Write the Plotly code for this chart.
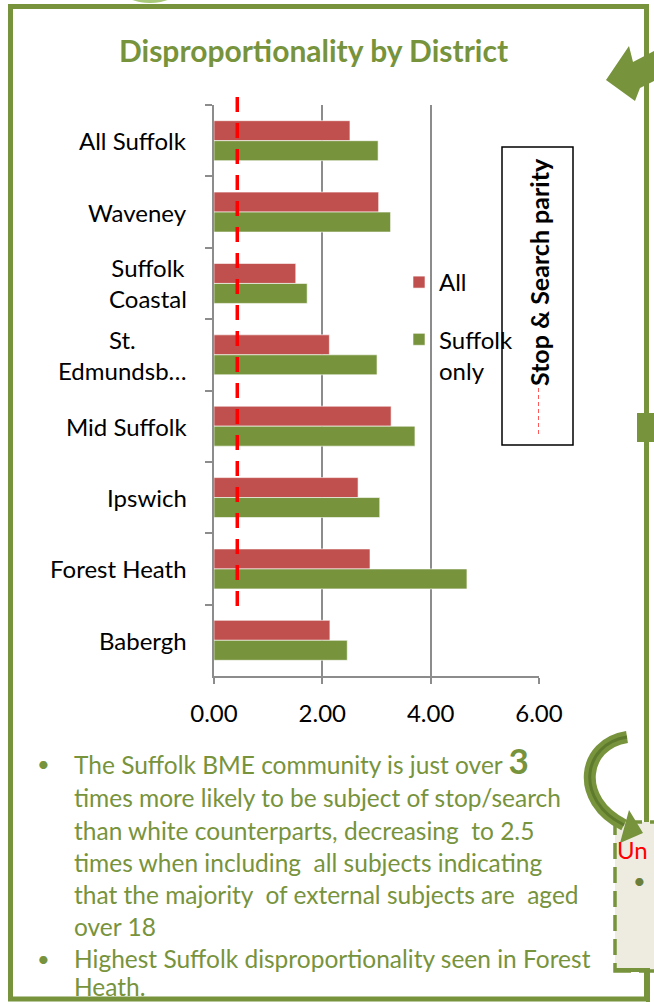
import plotly.graph_objects as go

# ---------------- data ----------------
categories = ["All Suffolk", "Waveney", "Suffolk Coastal", "St. Edmundsbury",
              "Mid Suffolk", "Ipswich", "Forest Heath", "Babergh"]
category_labels = ["All Suffolk", "Waveney", "Suffolk<br>Coastal", "St.<br>Edmundsb…",
                   "Mid Suffolk", "Ipswich", "Forest Heath", "Babergh"]
all_values = [2.51, 3.04, 1.51, 2.13, 3.27, 2.66, 2.88, 2.14]
suffolk_only_values = [3.03, 3.26, 1.72, 3.01, 3.71, 3.06, 4.67, 2.46]
series_names = ["All", "Suffolk<br>only"]
parity_value = 0.43
parity_label = "Stop & Search parity"
x_tick_values = [0, 2, 4, 6]
x_tick_labels = ["0.00", "2.00", "4.00", "6.00"]
title_text = "Disproportionality by District"
bullet_lines = [
    ("•", 'The Suffolk BME community is just over <span style="font-size:35px;font-weight:bold">3</span>'),
    ("", "times more likely to be subject of stop/search"),
    ("", "than white counterparts, decreasing  to 2.5"),
    ("", "times when including  all subjects indicating"),
    ("", "that the majority  of external subjects are  aged"),
    ("", "over 18"),
    ("•", "Highest Suffolk disproportionality seen in Forest"),
    ("", "Heath."),
]
side_box_title = "Un"

# ---------------- styling / layout ----------------
W, H = 654, 1002
L, R, T, B = 214, 539, 105, 676
GREEN = "#77933C"
RED = "#C0504D"
GRID = "#8C8C8C"
FONT = "Lato"


def px(x, y):
    return (x - L) / (R - L), (B - y) / (B - T)


def path_from(points, close=True):
    s = ""
    for i, (x, y) in enumerate(points):
        a, b = px(x, y)
        s += ("M" if i == 0 else "L") + f"{a:.5f},{b:.5f} "
    return s + ("Z" if close else "")


fig = go.Figure()
fig.add_trace(go.Bar(y=categories, x=all_values, name=series_names[0], orientation="h",
                     marker=dict(color=RED, line=dict(color="rgba(255,255,255,0.6)", width=1)),
                     legendgroup="a", hoverinfo="skip"))
fig.add_trace(go.Bar(y=categories, x=suffolk_only_values, name=series_names[1], orientation="h",
                     marker=dict(color=GREEN, line=dict(color="rgba(255,255,255,0.6)", width=1)),
                     legendgroup="b", hoverinfo="skip"))

shapes = []
# outer slide frame
x0, y0 = px(10.5, 999)
x1, y1 = px(646.5, 6.5)
shapes.append(dict(type="rect", xref="paper", yref="paper", x0=x0, y0=y0, x1=x1, y1=y1,
                   line=dict(color=GREEN, width=5), layer="below"))
# top ellipse (partially visible)
x0, y0 = px(122, 3)
x1, y1 = px(178, -24)
shapes.append(dict(type="circle", xref="paper", yref="paper", x0=x0, y0=y0, x1=x1, y1=y1,
                   fillcolor="#A8C97A", line=dict(width=0), layer="above"))
# top-right arrow
shapes.append(dict(type="path", xref="paper", yref="paper",
                   path=path_from([(606, 80), (629, 46), (633, 62), (656, 50), (656, 80),
                                   (640, 88), (635, 101)]),
                   fillcolor=GREEN, line=dict(width=0), layer="above"))
# right green square
x0, y0 = px(637, 442)
x1, y1 = px(656, 413)
shapes.append(dict(type="rect", xref="paper", yref="paper", x0=x0, y0=y0, x1=x1, y1=y1,
                   fillcolor=GREEN, line=dict(width=0), layer="above"))
# beige side box
x0, y0 = px(615, 971)
x1, y1 = px(662, 822)
shapes.append(dict(type="rect", xref="paper", yref="paper", x0=x0, y0=y0, x1=x1, y1=y1,
                   fillcolor="#EEECE1", line=dict(color=GREEN, width=3.5, dash="16px,8px"),
                   layer="above"))
shapes.append(dict(type="path", xref="paper", yref="paper",
                   path=path_from([(615, 970), (648, 970), (648, 1002)], close=False),
                   line=dict(color=GREEN, width=4), layer="above"))
# curved arrow
a0 = px(627, 737); c1 = px(582, 744); c2 = px(574, 800); a3 = px(624, 825)
shapes.append(dict(type="path", xref="paper", yref="paper",
                   path=f"M{a0[0]:.5f},{a0[1]:.5f} C{c1[0]:.5f},{c1[1]:.5f} {c2[0]:.5f},{c2[1]:.5f} {a3[0]:.5f},{a3[1]:.5f}",
                   line=dict(color=GREEN, width=12), layer="above"))
shapes.append(dict(type="path", xref="paper", yref="paper",
                   path=f"M{a0[0]:.5f},{a0[1]:.5f} C{c1[0]:.5f},{c1[1]:.5f} {c2[0]:.5f},{c2[1]:.5f} {a3[0]:.5f},{a3[1]:.5f}",
                   line=dict(color="#5E7A2C", width=3), layer="above"))
shapes.append(dict(type="path", xref="paper", yref="paper",
                   path=path_from([(643, 833), (629, 810), (620, 843)]),
                   fillcolor=GREEN, line=dict(width=0), layer="above"))
# parity line
ya = px(0, 97)[1]
yb = px(0, 615)[1]
shapes.append(dict(type="line", xref="x", yref="paper", x0=parity_value, x1=parity_value,
                   y0=ya, y1=yb, line=dict(color="#FF0000", width=3.5, dash="15px,11px"),
                   layer="above"))
# stop & search parity box
x0, y0 = px(502, 445)
x1, y1 = px(573, 147)
shapes.append(dict(type="rect", xref="paper", yref="paper", x0=x0, y0=y0, x1=x1, y1=y1,
                   line=dict(color="#000000", width=1.5), layer="above"))
shapes.append(dict(type="line", xref="x", yref="paper", x0=x_tick_values[-1], x1=x_tick_values[-1],
                   y0=px(0, 388)[1], y1=px(0, 434)[1],
                   line=dict(color="#FF0000", width=1.3, dash="4px,3px"), layer="above"))

annotations = []
# title
tx, ty = px(313, 50)
annotations.append(dict(text=f"<b>{title_text}</b>", xref="paper", yref="paper", x=tx, y=ty,
                        xanchor="center", yanchor="middle", showarrow=False,
                        font=dict(family=FONT, size=30, color=GREEN)))
# category labels
lab_x = px(189, 0)[0]
for cat, lab in zip(categories, category_labels):
    annotations.append(dict(text=lab, xref="paper", yref="y", x=lab_x, y=cat,
                            xanchor="right", yanchor="middle", align="center", showarrow=False,
                            font=dict(family=FONT, size=24, color="#000000")))
# stop & search label
sx = px(539, 272)
annotations.append(dict(text=f"<b>{parity_label}</b>", xref="paper", yref="paper", x=sx[0], y=sx[1],
                        xanchor="center", yanchor="middle", showarrow=False, textangle=-90,
                        font=dict(family=FONT, size=25, color="#000000")))
# bullet text
line_ys = [760, 797, 830, 862, 894, 926, 958, 986]
for (bul, txt), yy in zip(bullet_lines, line_ys):
    if bul:
        bx, by = px(43, yy + (3 if yy == line_ys[0] else 0))
        annotations.append(dict(text=bul, xref="paper", yref="paper", x=bx, y=by,
                                xanchor="center", yanchor="middle", showarrow=False,
                                font=dict(family=FONT, size=22, color=GREEN)))
    tx_, ty_ = px(72, yy)
    annotations.append(dict(text=txt, xref="paper", yref="paper", x=tx_, y=ty_,
                            xanchor="left", yanchor="middle", showarrow=False,
                            font=dict(family=FONT, size=24.5, color=GREEN)))
# side box text
ux, uy = px(615, 849)
annotations.append(dict(text=side_box_title, xref="paper", yref="paper", x=ux, y=uy,
                        xanchor="left", yanchor="middle", showarrow=False,
                        font=dict(family=FONT, size=24, color="#FF0000")))
bx, by = px(639, 880)
annotations.append(dict(text="•", xref="paper", yref="paper", x=bx, y=by,
                        xanchor="center", yanchor="middle", showarrow=False,
                        font=dict(family=FONT, size=22, color="#6B7F3A")))

lx, ly = px(399, 260)
fig.update_layout(
    width=W, height=H,
    margin=dict(l=L, r=W - R, t=T, b=H - B, pad=0),
    paper_bgcolor="white", plot_bgcolor="white",
    barmode="group", bargap=0.44, bargroupgap=0.0,
    font=dict(family=FONT, size=24, color="#000000"),
    xaxis=dict(range=[0, 6], tickvals=x_tick_values, ticktext=x_tick_labels,
               showgrid=True, gridcolor=GRID, gridwidth=1.5, zeroline=False,
               showline=True, linecolor=GRID, linewidth=1.5,
               ticks="outside", ticklen=6, tickcolor=GRID, tickwidth=1.5,
               ticklabelstandoff=9,
               tickfont=dict(family=FONT, size=24, color="#000000"), fixedrange=True),
    yaxis=dict(categoryorder="array", categoryarray=categories, autorange="reversed",
               showticklabels=False, showgrid=False, zeroline=False,
               showline=True, linecolor=GRID, linewidth=1.5,
               ticks="outside", tickson="boundaries", ticklen=7, tickcolor=GRID, tickwidth=1.5,
               fixedrange=True),
    legend=dict(x=lx, y=ly, xanchor="left", yanchor="top",
                font=dict(family=FONT, size=24, color="#000000"), bgcolor="rgba(0,0,0,0)",
                traceorder="grouped", tracegroupgap=23, valign="top", itemwidth=30),
    shapes=shapes, annotations=annotations,
)

fig.write_html("out.html", config={"displayModeBar": False},
               post_script="document.body.style.margin='0';")
